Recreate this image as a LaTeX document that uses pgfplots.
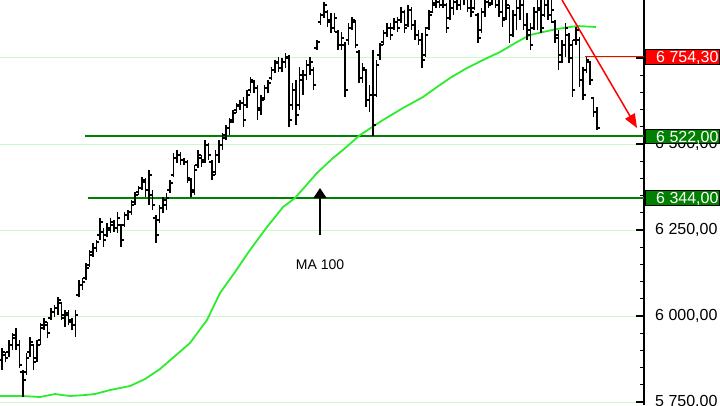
\documentclass[border=0pt]{standalone}
\usepackage{pgfplots}
\pgfplotsset{compat=1.18}
\usepackage{pgfplotstable}
\usepackage{fontspec}
\setmainfont{Liberation Sans}
\usetikzlibrary{arrows.meta}
\definecolor{magreen}{RGB}{45,235,45}
\definecolor{dkgreen}{RGB}{0,128,0}
\definecolor{gridgreen}{RGB}{200,250,200}
\pgfdeclareplotmark{otick}{\pgfpathmoveto{\pgfpoint{-2.8pt}{0pt}}\pgfpathlineto{\pgfpoint{0.5pt}{0pt}}\pgfusepathqstroke}
\pgfdeclareplotmark{ctick}{\pgfpathmoveto{\pgfpoint{-0.5pt}{0pt}}\pgfpathlineto{\pgfpoint{2.8pt}{0pt}}\pgfusepathqstroke}

\pgfplotstableread{
i o h l c
0 5872 5907 5843 5895
1 5887 5895 5866 5878
2 5895 5930 5881 5916
3 5916 5951 5901 5936
4 5945 5965 5901 5916
5 5916 5930 5849 5858
6 5837 5843 5765 5814
7 5837 5892 5828 5878
8 5895 5939 5881 5924
9 5916 5916 5843 5866
10 5878 5930 5866 5916
11 5930 5980 5916 5965
12 5974 5994 5959 5983
13 5974 5983 5936 5951
14 5994 6023 5988 6012
15 6012 6032 5997 6023
16 6023 6055 6003 6046
17 6038 6038 5988 6003
18 5994 6017 5968 6003
19 6009 6017 5974 5988
20 5983 5994 5959 5974
21 5974 6017 5939 6003
22 6061 6105 6055 6090
23 6090 6110 6076 6099
24 6110 6154 6105 6140
25 6148 6192 6142 6177
26 6186 6212 6172 6198
27 6198 6221 6186 6215
28 6235 6285 6221 6273
29 6244 6256 6201 6221
30 6235 6270 6230 6256
31 6250 6285 6241 6273
32 6265 6279 6244 6256
33 6256 6302 6241 6285
34 6265 6265 6201 6221
35 6265 6302 6259 6294
36 6294 6308 6279 6302
37 6302 6337 6294 6323
38 6331 6360 6323 6352
39 6360 6378 6352 6372
40 6372 6404 6366 6395
41 6390 6401 6346 6366
42 6366 6424 6323 6410
43 6352 6366 6308 6323
44 6285 6294 6212 6235
45 6279 6323 6270 6314
46 6314 6346 6299 6337
47 6323 6358 6308 6343
48 6366 6395 6358 6387
49 6410 6474 6404 6459
50 6459 6483 6445 6468
51 6468 6477 6439 6453
52 6453 6459 6439 6448
53 6448 6453 6387 6401
54 6395 6401 6346 6360
55 6366 6439 6352 6424
56 6439 6483 6430 6468
57 6459 6468 6433 6448
58 6453 6512 6445 6497
59 6497 6503 6453 6468
60 6448 6453 6395 6410
61 6419 6483 6410 6468
62 6468 6512 6445 6497
63 6497 6532 6483 6517
64 6526 6555 6512 6547
65 6547 6576 6526 6564
66 6570 6599 6561 6590
67 6599 6619 6590 6610
68 6613 6628 6599 6619
69 6619 6637 6549 6570
70 6613 6657 6605 6642
71 6657 6695 6648 6686
72 6680 6686 6648 6663
73 6663 6671 6570 6599
74 6605 6642 6584 6628
75 6634 6671 6628 6663
76 6663 6686 6648 6677
77 6692 6724 6686 6715
78 6715 6744 6706 6735
79 6738 6753 6709 6721
80 6721 6750 6709 6738
81 6738 6765 6721 6753
82 6750 6759 6549 6570
83 6613 6677 6599 6657
84 6657 6686 6555 6584
85 6613 6724 6599 6701
86 6686 6715 6642 6701
87 6701 6744 6686 6730
88 6730 6753 6701 6738
89 6715 6724 6657 6671
90 6779 6802 6773 6797
91 6855 6881 6846 6875
92 6875 6913 6866 6904
93 6884 6890 6840 6855
94 6860 6881 6823 6837
95 6837 6881 6826 6866
96 6826 6831 6773 6788
97 6788 6826 6773 6808
98 6788 6797 6637 6657
99 6802 6852 6788 6837
100 6837 6869 6831 6860
101 6855 6860 6779 6788
102 6767 6773 6677 6692
103 6692 6735 6677 6721
104 6715 6715 6608 6628
105 6628 6671 6593 6642
106 6642 6773 6523 6555
107 6642 6744 6637 6730
108 6759 6794 6744 6788
109 6797 6831 6788 6823
110 6823 6852 6811 6837
111 6837 6852 6802 6817
112 6837 6866 6831 6855
113 6855 6869 6826 6837
114 6860 6898 6852 6884
115 6884 6890 6823 6837
116 6846 6904 6840 6890
117 6890 6898 6831 6846
118 6846 6860 6802 6817
119 6817 6831 6788 6802
120 6802 6823 6721 6744
121 6759 6840 6753 6817
122 6837 6890 6831 6875
123 6884 6919 6884 6910
124 6904 6933 6895 6919
125 6913 6933 6895 6904
126 6904 6927 6895 6919
127 6904 6910 6823 6837
128 6866 6919 6860 6895
129 6895 6927 6875 6913
130 6913 6933 6890 6904
131 6904 6927 6890 6919
132 6919 6942 6904 6927
133 6927 6933 6884 6895
134 6895 6919 6869 6884
135 6895 6933 6890 6919
136 6875 6881 6794 6808
137 6831 6895 6823 6884
138 6884 6927 6869 6913
139 6913 6933 6895 6904
140 6910 6933 6904 6919
141 6919 6933 6895 6904
142 6904 6919 6869 6884
143 6884 6919 6840 6860
144 6866 6927 6860 6904
145 6895 6904 6794 6817
146 6817 6890 6811 6875
147 6875 6919 6831 6895
148 6895 6933 6860 6904
149 6904 6919 6831 6846
150 6846 6881 6802 6817
151 6831 6852 6773 6788
152 6837 6898 6831 6884
153 6884 6919 6831 6895
154 6890 6919 6823 6837
155 6875 6927 6869 6904
156 6904 6919 6860 6875
157 6875 6919 6852 6890
158 6855 6860 6794 6808
159 6817 6831 6715 6738
160 6759 6802 6735 6788
161 6788 6852 6753 6837
162 6817 6823 6735 6750
163 6788 6802 6637 6657
164 6802 6840 6788 6831
165 6802 6811 6666 6686
166 6686 6724 6628 6642
167 6715 6753 6706 6744
168 6738 6738 6671 6686
169 6634 6637 6578 6593
170 6593 6608 6541 6547
}\ohlc

\pgfplotstableread{
i v
-0.57 5767.4
6 5767.4
10.86 5764.5
15.14 5773.2
19.43 5767.4
23.71 5770.3
26.57 5773.2
30.86 5784.8
36.57 5796.5
40.86 5816.8
45.14 5845.9
49.43 5883.7
53.71 5921.5
58.57 5988.4
62.29 6066.9
66.57 6127.9
70.86 6191.9
75.71 6258.7
80.29 6316.9
83.71 6343.0
90 6415.7
94.57 6459.3
97.43 6482.6
102.29 6526.2
108.86 6569.8
114.57 6604.6
120.29 6636.6
124.29 6665.7
128 6691.9
132.86 6720.9
137.43 6744.2
142.29 6767.4
147.14 6796.5
150.86 6816.9
154.57 6825.6
158.57 6834.3
162.29 6840.1
164.29 6843.0
169.71 6840.1
}\ma

\begin{document}
\begin{tikzpicture}
\useasboundingbox (0,0) rectangle (720pt,405pt);
\begin{axis}[
  at={(0,0)}, anchor=south west,
  width=644pt, height=405pt, scale only axis,
  xmin=-0.5714, xmax=183.4286,
  ymin=5741.3, ymax=6918.6,
  axis x line=none,
  axis y line=right,
  y axis line style={-, black, line width=1.3pt},
  ytick={5750,6000,6250,6500,6750},
  yticklabels={{5 750,00},{6 000,00},{6 250,00},{6 500,00},{6 750,00}},
  minor y tick num=4,
  ytick align=inside,
  major tick length=8pt, minor tick length=4pt,
  ytick style={black, line width=1.2pt},
  yticklabel style={font=\fontsize{16}{16}\selectfont, anchor=west, inner sep=0pt, xshift=11pt},
  ymajorgrids, major grid style={gridgreen, line width=1pt},
]
\coordinate (R) at (axis cs:183.4286,6754.3);
\coordinate (G1) at (axis cs:183.4286,6522);
\coordinate (G2) at (axis cs:183.4286,6344);
% support / resistance lines
\draw[dkgreen, line width=2pt] (axis cs:23.71,6523.2) -- (axis cs:183.43,6523.2);
\draw[dkgreen, line width=2pt] (axis cs:24.57,6343.0) -- (axis cs:183.43,6343.0);
\draw[red, line width=1.6pt] (axis cs:166.57,6754.3) -- (axis cs:183.43,6754.3);
% moving average
\addplot[magreen, line width=1.8pt, mark=none] table[x=i, y=v] \ma;
% OHLC bars
\addplot[black, line width=1.6pt, -, quiver={u=0, v=\thisrow{h}-\thisrow{l}}] table[x=i, y=l] \ohlc;
\addplot[black, only marks, mark=otick, mark options={line width=1.4pt}] table[x=i, y=o] \ohlc;
\addplot[black, only marks, mark=ctick, mark options={line width=1.4pt}] table[x=i, y=c] \ohlc;
% trend arrow
\draw[red, line width=1.5pt, -{Triangle[length=14pt, width=11pt]}] (axis cs:160,6918.6) -- (axis cs:181.43,6546.5);
% MA label
\draw[black, line width=1.2pt, -{Triangle[length=10pt, width=13pt]}] (axis cs:90.86,6235) -- (axis cs:90.86,6372);
\node[font=\fontsize{14}{14}\selectfont] at (axis cs:90.86,6150) {MA 100};
\end{axis}
% price boxes
\draw[fill=red, draw=black, line width=0.8pt] ([xshift=1pt, yshift=-7.5pt]R) rectangle ([xshift=75pt, yshift=7.5pt]R);
\node[anchor=base west, inner sep=0pt, text=white, font=\fontsize{16}{16}\selectfont] at ([xshift=12pt, yshift=-5.8pt]R) {6 754,30};
\draw[fill=dkgreen, draw=black, line width=0.8pt] ([xshift=1pt, yshift=-7pt]G1) rectangle ([xshift=75pt, yshift=7.5pt]G1);
\node[anchor=base west, inner sep=0pt, text=white, font=\fontsize{16}{16}\selectfont] at ([xshift=12pt, yshift=-5.8pt]G1) {6 522,00};
\draw[fill=dkgreen, draw=black, line width=0.8pt] ([xshift=1pt, yshift=-7.5pt]G2) rectangle ([xshift=75pt, yshift=7.5pt]G2);
\node[anchor=base west, inner sep=0pt, text=white, font=\fontsize{16}{16}\selectfont] at ([xshift=12pt, yshift=-5.8pt]G2) {6 344,00};
\end{tikzpicture}
\end{document}
